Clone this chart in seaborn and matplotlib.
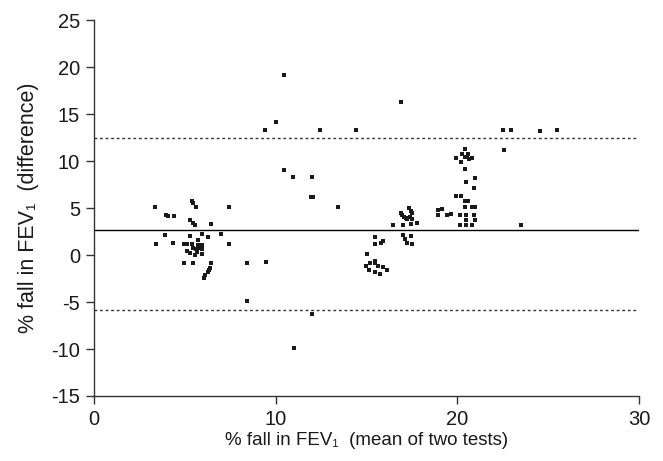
import numpy as np
import pandas as pd
import matplotlib
matplotlib.use('Agg')
import matplotlib.pyplot as plt
import seaborn as sns

# Bland-Altman: % fall in FEV1, mean of two tests vs difference
mean_fall = [
    3.36, 3.94, 4.09, 4.39, 5.41, 5.45, 5.61, 7.43, 5.30, 5.43, 5.58, 6.42,
    3.91, 3.39, 4.35, 5.27, 5.93, 6.27, 6.97, 7.43, 4.97, 5.12, 5.41, 5.71,
    5.74, 5.93, 5.47, 5.61, 5.74, 5.69, 5.93, 5.10, 5.28, 5.58, 5.94,
    4.94, 5.45, 6.42, 6.40, 6.35, 6.29, 6.11, 6.04, 8.44, 9.45, 8.40,
    10.46, 10.02, 9.43, 12.44, 14.42, 10.44, 10.95, 12.00, 11.93, 12.05,
    13.43, 12.00, 10.99,
    15.47, 15.45, 15.78, 15.90, 15.00, 14.95, 15.19, 15.47, 15.47, 15.65,
    15.89, 16.13, 15.74, 15.45, 15.15,
    16.90, 16.88, 16.97, 17.06, 17.15, 17.24, 17.35, 17.43, 17.52, 17.39,
    17.50, 16.44, 17.02, 17.46, 17.78, 17.02, 17.46, 17.13, 17.23, 17.49,
    18.95, 19.17, 18.95, 19.43, 19.63,
    20.43, 20.23, 20.60, 20.42, 20.51, 19.94, 20.65, 20.80, 20.18, 20.43,
    20.95, 20.47, 20.93, 19.94, 20.20, 20.43, 20.60, 20.43, 20.79, 20.95,
    20.14, 20.47, 20.93, 20.47, 20.95, 20.14, 20.49, 20.79,
    22.49, 22.95, 24.53, 25.50, 22.56, 23.48,
]
diff_fall = [
    5.10, 4.26, 4.20, 4.15, 5.71, 5.50, 5.07, 5.10, 3.72, 3.44, 3.22, 3.33,
    2.13, 1.17, 1.31, 2.02, 2.23, 1.88, 2.23, 1.17, 1.17, 1.17, 1.17, 1.60,
    1.03, 1.03, 0.71, 0.60, 0.71, 0.35, 0.60, 0.46, 0.18, 0.00, 0.11,
    -0.85, -0.85, -0.85, -1.35, -1.60, -1.78, -2.13, -2.45, -0.85, -0.78, -4.89,
    19.15, 14.15, 13.30, 13.30, 13.30, 9.04, 8.30, 8.30, 6.17, 6.17,
    5.10, -6.28, -9.89,
    1.88, 1.14, 1.28, 1.49, 0.11, -1.17, -0.85, -0.64, -0.85, -1.17,
    -1.31, -1.60, -2.02, -1.81, -1.60,
    16.28, 4.43, 4.26, 4.08, 3.97, 3.83, 4.97, 4.71, 4.43, 4.08,
    3.80, 3.16, 3.16, 3.27, 3.37, 2.10, 2.00, 1.67, 1.24, 1.14,
    4.79, 4.86, 4.22, 4.22, 4.33,
    11.24, 10.71, 10.71, 10.46, 10.39, 10.29, 10.21, 10.32, 9.86, 9.11,
    8.22, 7.77, 7.10, 6.24, 6.24, 5.74, 5.74, 5.14, 5.07, 5.07,
    4.22, 4.22, 4.22, 3.69, 3.69, 3.16, 3.16, 3.16,
    13.30, 13.30, 13.19, 13.30, 11.17, 3.16,
]
mean_diff = 2.7
upper_loa = 12.4
lower_loa = -5.9

x_ticks = [0, 10, 20, 30]
y_ticks = [-15, -10, -5, 0, 5, 10, 15, 20, 25]

df = pd.DataFrame({'mean': mean_fall, 'diff': diff_fall})

sns.set_style('ticks')
plt.rcParams['font.family'] = ['Liberation Sans', 'DejaVu Sans']
plt.rcParams['axes.unicode_minus'] = False

fig = plt.figure(figsize=(6.63, 4.61), dpi=100)
ax = fig.add_axes([0.1418, 0.141, 0.822, 0.8156])

sns.scatterplot(data=df, x='mean', y='diff', marker='s', s=7, color='#1a1a1a',
                linewidth=0, ax=ax)

ax.axhline(mean_diff, color='black', lw=1.0)
ax.axhline(upper_loa, color='#333333', lw=1.0, ls=(0, (2, 2)))
ax.axhline(lower_loa, color='#333333', lw=1.0, ls=(0, (2, 2)))

ax.set_xlim(0, 30)
ax.set_ylim(-15, 25)
ax.set_xticks(x_ticks)
ax.set_yticks(y_ticks)
ax.tick_params(labelsize=14.5, length=6, width=1, color='#333333', pad=4,
               labelcolor='#1a1a1a')
ax.set_xlabel('% fall in FEV\u2081  (mean of two tests)', fontsize=13.5, labelpad=2,
              color='#1a1a1a')
ax.set_ylabel('% fall in FEV\u2081  (difference)', fontsize=15.5, labelpad=9,
              color='#1a1a1a')
sns.despine(ax=ax)
for sp in ['left', 'bottom']:
    ax.spines[sp].set_linewidth(1)
    ax.spines[sp].set_color('#333333')

fig.savefig('out.png', dpi=100)
